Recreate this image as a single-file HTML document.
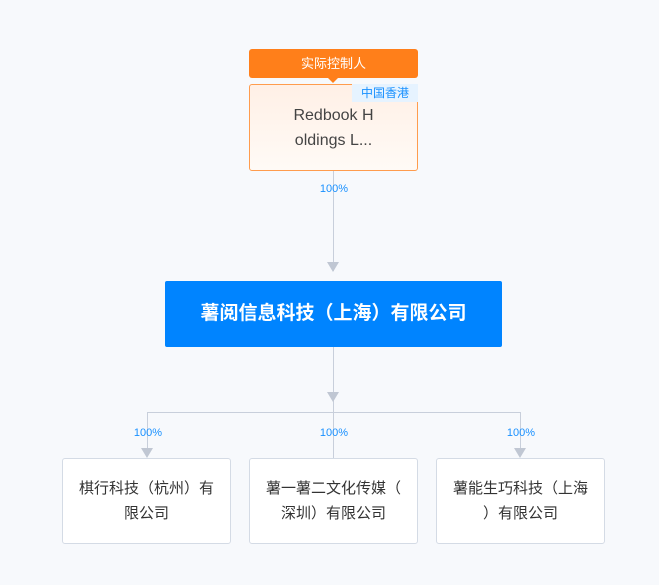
<!DOCTYPE html>
<html><head><meta charset="utf-8"><style>
body{margin:0;width:659px;height:585px;background:#f7f9fc;position:relative;overflow:hidden;font-family:"Liberation Sans","Noto Sans CJK SC",sans-serif}
.a{position:absolute}
.box{position:absolute;background:#fff;border:1px solid #d4dbe5;border-radius:3px;box-sizing:border-box;display:flex;align-items:center;justify-content:center;text-align:center;color:#333;font-size:15px;line-height:25px;white-space:nowrap}
.pct{position:absolute;font-size:11px;color:#1890ff;width:60px;text-align:center}
.ln{position:absolute;background:#c8cfdb}
.arr{position:absolute;width:0;height:0;border-left:6px solid transparent;border-right:6px solid transparent;border-top:10px solid #c0c7d3}
</style></head><body>
<div class="a" style="left:249px;top:49px;width:169px;height:29px;background:#ff7f1a;border-radius:3px;color:#fff;font-size:13px;text-align:center;line-height:29px">实际控制人</div>
<div class="a" style="left:328px;top:78px;width:0;height:0;border-left:5px solid transparent;border-right:5px solid transparent;border-top:5px solid #ff7f1a"></div>
<div class="box" style="left:249px;top:84px;width:169px;height:87px;background:linear-gradient(#fff0e6,#fffaf6);border-color:#ff9c4d;font-size:16px;color:#444"><div>Redbook H<br>oldings L...</div></div>
<div class="a" style="left:352px;top:84px;width:66px;height:18px;background:#e6f3ff;color:#1890ff;font-size:12px;text-align:center;line-height:18px">中国香港</div>
<div class="ln" style="left:333px;top:171px;width:1px;height:100px"></div>
<div class="pct" style="left:304px;top:183px">100%</div>
<div class="arr" style="left:327px;top:262px"></div>
<div class="a" style="left:165px;top:281px;width:337px;height:66px;background:#0084ff;border-radius:2px;color:#fff;font-size:19px;font-weight:bold;text-align:center;line-height:66px">薯阅信息科技（上海）有限公司</div>
<div class="ln" style="left:333px;top:347px;width:1px;height:111px"></div>
<div class="arr" style="left:327px;top:392px"></div>
<div class="ln" style="left:147px;top:412px;width:374px;height:1px"></div>
<div class="ln" style="left:147px;top:412px;width:1px;height:40px"></div>
<div class="ln" style="left:520px;top:412px;width:1px;height:40px"></div>
<div class="arr" style="left:141px;top:448px"></div>
<div class="arr" style="left:514px;top:448px"></div>
<div class="pct" style="left:118px;top:427px">100%</div>
<div class="pct" style="left:304px;top:427px">100%</div>
<div class="pct" style="left:491px;top:427px">100%</div>
<div class="box" style="left:62px;top:458px;width:169px;height:86px"><div>棋行科技（杭州）有<br>限公司</div></div>
<div class="box" style="left:249px;top:458px;width:169px;height:86px"><div>薯一薯二文化传媒（<br>深圳）有限公司</div></div>
<div class="box" style="left:436px;top:458px;width:169px;height:86px"><div>薯能生巧科技（上海<br>）有限公司</div></div>
</body></html>
